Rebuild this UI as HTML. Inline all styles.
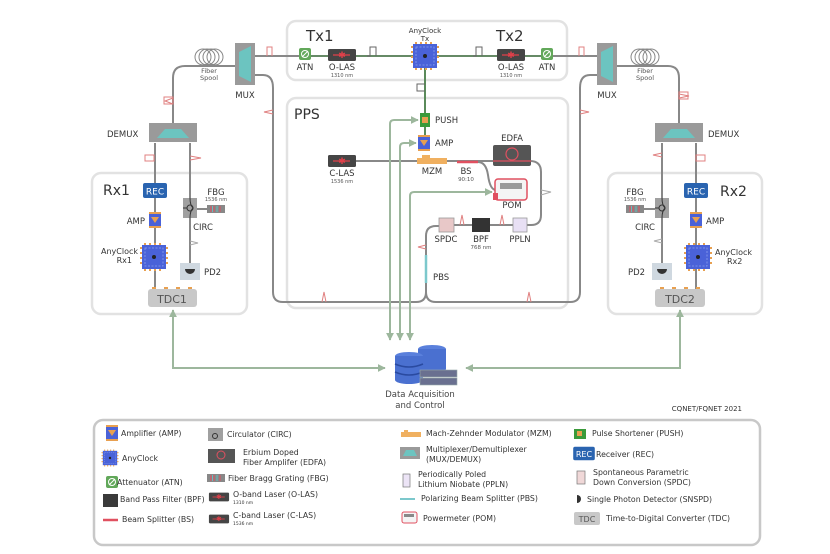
<!DOCTYPE html>
<html><head><meta charset="utf-8"><style>
html,body{margin:0;padding:0;background:#fff;}
svg{display:block;font-family:"DejaVu Sans","Liberation Sans",sans-serif;}
</style></head><body>
<svg width="830" height="554" viewBox="0 0 830 554" xmlns="http://www.w3.org/2000/svg">
<defs>
<marker id="ga" viewBox="0 0 10 10" refX="9" refY="5" markerWidth="4" markerHeight="4" orient="auto-start-reverse"><path d="M0,0L10,5L0,10z" fill="#9db79d"/></marker>
<g id="ac"><rect x="-12" y="-12" width="24" height="24" fill="#4a62d8"/><rect x="-9" y="-9" width="18" height="18" fill="none" stroke="#8aa0ee" stroke-width="0.8" stroke-dasharray="2 1.5"/><circle r="2" fill="#222"/><g fill="#e8a050"><rect x="-10" y="-14" width="2" height="2"/><rect x="-5" y="-14" width="2" height="2"/><rect x="0" y="-14" width="2" height="2"/><rect x="5" y="-14" width="2" height="2"/><rect x="-10" y="12" width="2" height="2"/><rect x="-5" y="12" width="2" height="2"/><rect x="0" y="12" width="2" height="2"/><rect x="5" y="12" width="2" height="2"/><rect x="-14" y="-10" width="2" height="2"/><rect x="-14" y="-5" width="2" height="2"/><rect x="-14" y="0" width="2" height="2"/><rect x="-14" y="5" width="2" height="2"/><rect x="12" y="-10" width="2" height="2"/><rect x="12" y="-5" width="2" height="2"/><rect x="12" y="0" width="2" height="2"/><rect x="12" y="5" width="2" height="2"/></g></g>
<g id="amp"><rect x="-6" y="-6" width="12" height="12" fill="#4a62d8"/><path d="M-4,-3L4,-3L0,3z" fill="#e8a050"/><rect x="-6" y="-8" width="12" height="2" fill="#e8a050"/><rect x="-6" y="6" width="12" height="2" fill="#e8a050"/></g>
<g id="las"><rect x="-14" y="-6" width="28" height="12" rx="1.5" fill="#454545"/><line x1="-9" y1="0" x2="8" y2="0" stroke="#e0404a" stroke-width="1.2"/><text x="0" y="3" font-size="9" fill="#e0404a" text-anchor="middle">✱</text></g>
<g id="atn"><rect x="-6" y="-6" width="12" height="12" rx="2" fill="#62a85a"/><circle r="3.5" fill="none" stroke="#fff" stroke-width="1"/><line x1="-3" y1="3" x2="3" y2="-3" stroke="#fff" stroke-width="1"/></g>
<g id="mux"><rect x="-10" y="-21" width="20" height="42" fill="#9a9a9a"/><path d="M-6,-12L6,-18L6,18L-6,12z" fill="#6cc4c0"/></g>
<g id="demux"><rect x="-24" y="-10" width="48" height="19" fill="#9a9a9a"/><path d="M-16,5L-8,-4L8,-4L16,5z" fill="#6cc4c0"/></g>
<g id="spool" fill="none" stroke="#888" stroke-width="1"><circle cx="-6" r="8"/><circle cx="-2" r="8"/><circle cx="2" r="8"/><circle cx="6" r="8"/></g>
<g id="tdcdots" fill="#e8a050"><rect x="-20" y="-2" width="4" height="2"/><rect x="-8" y="-2" width="4" height="2"/><rect x="4" y="-2" width="4" height="2"/><rect x="16" y="-2" width="4" height="2"/></g>
<g id="circ"><rect x="-7" y="-10" width="14" height="20" fill="#a0a0a0"/><circle r="3" fill="none" stroke="#333" stroke-width="1"/><path d="M-7,0L-3,0M0,-10Q0,-3 3,0Q0,3 0,10" fill="none" stroke="#333" stroke-width="1"/></g>
<g id="fbg"><rect x="-9" y="-4" width="18" height="8" fill="#888"/><g stroke="#e05060" stroke-width="1"><line x1="-5" y1="-3" x2="-5" y2="3"/><line x1="-2" y1="-3" x2="-2" y2="3"/><line x1="4" y1="-3" x2="4" y2="3"/></g><g stroke="#60c0c0" stroke-width="1"><line x1="-3.5" y1="-3" x2="-3.5" y2="3"/><line x1="1" y1="-3" x2="1" y2="3"/></g></g>
<g id="pd"><rect x="-10" y="-9" width="20" height="17" fill="#cfd8e0"/><path d="M-5,-3L5,-3A5,5 0 0 1 -5,-3z" fill="#333"/></g>
<g id="rec"><rect x="-12" y="-8" width="24" height="15" rx="2" fill="#2a64b0"/><text x="0" y="3.5" font-size="9" fill="#fff" text-anchor="middle">REC</text></g>
</defs>

<g fill="none" stroke="#e2e2e2" stroke-width="2.5">
<rect x="287" y="21" width="280" height="59" rx="9"/>
<rect x="287" y="98" width="281" height="210" rx="9"/>
<rect x="92" y="173" width="155" height="141" rx="9"/>
<rect x="608" y="173" width="154" height="141" rx="9"/>
<rect x="94" y="420" width="666" height="125" rx="9" stroke="#c8c8c8"/>
</g>

<g fill="none" stroke="#888" stroke-width="2">
<line x1="255" y1="56" x2="598" y2="56"/>
<path d="M236,66L185,66Q173,66 173,78L173,124"/>
<path d="M255,75L263,75Q273,75 273,88L273,292Q273,302 283,302L416,302Q426,302 426,292L426,236Q426,226 436,226L440,226"/>
<path d="M426,292Q426,302 436,302L570,302Q580,302 580,292L580,88Q580,75 590,75L598,75"/>
<path d="M617,66L668,66Q679,66 679,78L679,124"/>
<line x1="155" y1="143" x2="155" y2="289"/>
<line x1="190" y1="143" x2="190" y2="264"/>
<line x1="196" y1="209" x2="207" y2="209"/>
<line x1="662" y1="143" x2="662" y2="264"/>
<line x1="696" y1="143" x2="696" y2="289"/>
<line x1="644" y1="209" x2="655" y2="209"/>
<path d="M340,161L530,161Q541,161 541,172L541,215Q541,225 531,225L527,225"/>
<line x1="490" y1="225" x2="513" y2="225"/>
<line x1="454" y1="225" x2="472" y2="225"/>
<path d="M478,162Q486,162 488,175Q490,190 496,190"/>
</g>
<line x1="425" y1="56" x2="425" y2="150" stroke="#5a8a5a" stroke-width="2"/>
<line x1="300" y1="56" x2="552" y2="56" stroke="#5a8a5a" stroke-width="1.5"/>
<g fill="none" stroke="#666" stroke-width="1">
<path d="M367,56L370,56L370,47L376,47L376,56"/>
<path d="M473,56L476,56L476,47L482,47L482,56"/>
<path d="M425,84L417,84L417,91L425,91"/>
</g>
<g fill="none" stroke="#e08080" stroke-width="1">
<path d="M267,56L267,47L272,47L272,56"/><path d="M579,56L579,47L584,47L584,56"/>
<rect x="145" y="155" width="9" height="6"/><rect x="696" y="155" width="9" height="6"/>
<path d="M173,98L165,101L173,104"/><rect x="164" y="97" width="9" height="7"/>
<path d="M190,160L201,158L190,156"/>
<path d="M679,94L689,96L679,98"/><rect x="679" y="92" width="9" height="7"/>
<path d="M662,153L653,155L662,157"/>
<path d="M273,110L264,112L273,114"/>
<path d="M580,110L589,112L580,114"/>
<path d="M322,302L324,292L326,302"/><path d="M527,302L529,292L531,302"/>
<path d="M460,225L462,215L464,225"/><path d="M500,225L502,215L504,225"/>
<path d="M426,245L418,247L426,249"/>
</g>
<g fill="none" stroke="#aaa" stroke-width="1"><path d="M190,245L198,243L190,241"/><path d="M662,243L654,241L662,239"/><path d="M541,195L551,192L541,190"/></g>

<g fill="none" stroke="#9db79d" stroke-width="2">
<path d="M390,340L390,124Q390,120 394,120L418,120" marker-start="url(#ga)" marker-end="url(#ga)"/>
<path d="M400,340L400,147Q400,143 404,143L416,143" marker-start="url(#ga)" marker-end="url(#ga)"/>
<path d="M410,340L410,196Q410,192 414,192L492,192" marker-start="url(#ga)" marker-end="url(#ga)"/>
<path d="M173,310L173,368L385,368" marker-start="url(#ga)" marker-end="url(#ga)"/>
<path d="M680,310L680,368L466,368" marker-start="url(#ga)" marker-end="url(#ga)"/>
</g>

<text x="306" y="41" font-size="15" fill="#333">Tx1</text>
<text x="496" y="41" font-size="15" fill="#333">Tx2</text>
<use href="#atn" x="305" y="54"/><text x="305" y="70" font-size="8.5" fill="#333" text-anchor="middle">ATN</text>
<use href="#las" x="342" y="55"/><text x="342" y="70" font-size="8.5" fill="#333" text-anchor="middle">O-LAS</text><text x="342" y="77" font-size="5" fill="#555" text-anchor="middle">1310 nm</text>
<use href="#las" x="511" y="55"/><text x="511" y="70" font-size="8.5" fill="#333" text-anchor="middle">O-LAS</text><text x="511" y="77" font-size="5" fill="#555" text-anchor="middle">1310 nm</text>
<use href="#atn" x="547" y="54"/><text x="547" y="70" font-size="8.5" fill="#333" text-anchor="middle">ATN</text>
<use href="#ac" x="425" y="56"/>
<text x="425" y="33" font-size="7" fill="#333" text-anchor="middle">AnyClock</text><text x="425" y="41" font-size="7" fill="#333" text-anchor="middle">Tx</text>

<use href="#mux" x="245" y="64"/><text x="245" y="98" font-size="8.5" fill="#333" text-anchor="middle">MUX</text>
<use href="#mux" x="607" y="64"/><text x="607" y="98" font-size="8.5" fill="#333" text-anchor="middle">MUX</text>
<use href="#spool" x="209" y="57"/><text x="209" y="73" font-size="6.5" fill="#555" text-anchor="middle">Fiber</text><text x="209" y="80" font-size="6.5" fill="#555" text-anchor="middle">Spool</text>
<use href="#spool" x="645" y="57"/><text x="645" y="73" font-size="6.5" fill="#555" text-anchor="middle">Fiber</text><text x="645" y="80" font-size="6.5" fill="#555" text-anchor="middle">Spool</text>

<text x="294" y="119" font-size="14" fill="#333">PPS</text>
<rect x="420" y="113" width="10" height="14" fill="#3a9a3a"/><rect x="422" y="117" width="6" height="6" fill="#e8a050"/>
<text x="435" y="123" font-size="8.5" fill="#333">PUSH</text>
<use href="#amp" x="424" y="143"/><text x="435" y="146" font-size="8.5" fill="#333">AMP</text>
<use href="#las" x="342" y="161"/><text x="342" y="176" font-size="8.5" fill="#333" text-anchor="middle">C-LAS</text><text x="342" y="183" font-size="5" fill="#555" text-anchor="middle">1536 nm</text>
<rect x="417" y="158" width="30" height="6" fill="#f0b060"/><rect x="422" y="155" width="8" height="3" fill="#f0b060"/>
<text x="432" y="174" font-size="8.5" fill="#333" text-anchor="middle">MZM</text>
<line x1="457" y1="162" x2="478" y2="162" stroke="#e05060" stroke-width="2.5"/>
<text x="466" y="174" font-size="8.5" fill="#333" text-anchor="middle">BS</text><text x="466" y="181" font-size="5.5" fill="#555" text-anchor="middle">90:10</text>
<rect x="493" y="145" width="38" height="21" rx="2" fill="#555"/><circle cx="512" cy="154" r="6" fill="none" stroke="#e05060" stroke-width="1.2"/><line x1="493" y1="161" x2="531" y2="161" stroke="#e05060" stroke-width="1.2"/>
<text x="512" y="141" font-size="8.5" fill="#333" text-anchor="middle">EDFA</text>
<rect x="495" y="179" width="32" height="21" rx="3" fill="#f4f4f4" stroke="#e05060" stroke-width="1.5"/><rect x="500" y="183" width="22" height="6" fill="#999"/><rect x="493" y="193" width="5" height="7" fill="#e05060"/>
<text x="512" y="208" font-size="8.5" fill="#333" text-anchor="middle">POM</text>
<rect x="439" y="218" width="15" height="14" fill="#e8c8c8" stroke="#999" stroke-width="0.8"/>
<text x="446" y="242" font-size="8.5" fill="#333" text-anchor="middle">SPDC</text>
<rect x="472" y="218" width="18" height="14" fill="#333"/>
<text x="481" y="242" font-size="8.5" fill="#333" text-anchor="middle">BPF</text><text x="481" y="249" font-size="5.5" fill="#555" text-anchor="middle">768 nm</text>
<rect x="513" y="218" width="14" height="14" fill="#e8e0f4" stroke="#999" stroke-width="0.8"/>
<text x="520" y="242" font-size="8.5" fill="#333" text-anchor="middle">PPLN</text>
<line x1="426" y1="255" x2="426" y2="283" stroke="#7cc8cc" stroke-width="2.5"/>
<text x="433" y="280" font-size="8.5" fill="#333">PBS</text>

<use href="#demux" x="173" y="133"/><text x="107" y="137" font-size="8.5" fill="#333">DEMUX</text>
<text x="103" y="195" font-size="14" fill="#333">Rx1</text>
<use href="#rec" x="155" y="191"/>
<use href="#amp" x="155" y="220"/><text x="145" y="224" font-size="8.5" fill="#333" text-anchor="end">AMP</text>
<use href="#ac" x="154" y="257"/><text x="138" y="254" font-size="8" fill="#333" text-anchor="end">AnyClock</text><text x="132" y="263" font-size="8" fill="#333" text-anchor="end">Rx1</text>
<use href="#circ" x="190" y="208"/><text x="203" y="230" font-size="8.5" fill="#333" text-anchor="middle">CIRC</text>
<use href="#fbg" x="216" y="209"/><text x="216" y="195" font-size="8.5" fill="#333" text-anchor="middle">FBG</text><text x="216" y="201" font-size="5" fill="#555" text-anchor="middle">1536 nm</text>
<use href="#pd" x="190" y="272"/><text x="204" y="275" font-size="8.5" fill="#333">PD2</text>
<rect x="148" y="289" width="49" height="18" rx="3" fill="#c8c8c8"/><use href="#tdcdots" x="172" y="289"/><text x="172" y="303" font-size="11" fill="#555" text-anchor="middle">TDC1</text>

<use href="#demux" x="679" y="133"/><text x="708" y="137" font-size="8.5" fill="#333">DEMUX</text>
<text x="720" y="196" font-size="14" fill="#333">Rx2</text>
<use href="#rec" x="696" y="191"/>
<use href="#amp" x="696" y="220"/><text x="706" y="224" font-size="8.5" fill="#333">AMP</text>
<use href="#ac" x="698" y="257"/><text x="715" y="255" font-size="8" fill="#333">AnyClock</text><text x="727" y="264" font-size="8" fill="#333">Rx2</text>
<use href="#circ" x="662" y="208"/><text x="645" y="230" font-size="8.5" fill="#333" text-anchor="middle">CIRC</text>
<use href="#fbg" x="635" y="209"/><text x="635" y="195" font-size="8.5" fill="#333" text-anchor="middle">FBG</text><text x="635" y="201" font-size="5" fill="#555" text-anchor="middle">1536 nm</text>
<use href="#pd" x="662" y="272"/><text x="628" y="275" font-size="8.5" fill="#333">PD2</text>
<rect x="655" y="289" width="50" height="18" rx="3" fill="#c8c8c8"/><use href="#tdcdots" x="680" y="289"/><text x="680" y="303" font-size="11" fill="#555" text-anchor="middle">TDC2</text>

<g>
<ellipse cx="432" cy="349" rx="14" ry="4" fill="#5a80dc"/><rect x="418" y="349" width="28" height="20" fill="#4a70d0"/><ellipse cx="432" cy="369" rx="14" ry="4" fill="#4a70d0"/>
<ellipse cx="409" cy="356" rx="14" ry="4" fill="#5a80dc"/><rect x="395" y="356" width="28" height="24" fill="#4a70d0"/><ellipse cx="409" cy="380" rx="14" ry="4" fill="#4a70d0"/>
<path d="M395,364Q409,370 423,364M395,372Q409,378 423,372" fill="none" stroke="#2a4aa0" stroke-width="1.5"/>
<rect x="420" y="370" width="37" height="7" fill="#6a7090" stroke="#9aa" stroke-width="0.6"/><rect x="420" y="378" width="37" height="7" fill="#6a7090" stroke="#9aa" stroke-width="0.6"/>
</g>
<text x="420" y="397" font-size="8.5" fill="#444" text-anchor="middle">Data Acquisition</text>
<text x="420" y="408" font-size="8.5" fill="#444" text-anchor="middle">and Control</text>
<text x="742" y="411" font-size="7" fill="#333" text-anchor="end">CQNET/FQNET 2021</text>

<g font-size="7.8" fill="#333">
<use href="#amp" x="112" y="433"/><text x="121" y="436">Amplifier (AMP)</text>
<g transform="translate(110,458) scale(0.6)"><use href="#ac"/></g><text x="122" y="461">AnyClock</text>
<use href="#atn" x="112" y="482"/><text x="117" y="485">Attenuator (ATN)</text>
<rect x="103" y="494" width="15" height="13" fill="#3a3a3a"/><text x="120" y="502">Band Pass Filter (BPF)</text>
<line x1="103" y1="520" x2="118" y2="520" stroke="#e05060" stroke-width="2.5"/><text x="122" y="522">Beam Splitter (BS)</text>
<rect x="208" y="428" width="15" height="13" fill="#a0a0a0"/><circle cx="215" cy="436" r="2.5" fill="none" stroke="#333"/><text x="227" y="437">Circulator (CIRC)</text>
<rect x="208" y="449" width="27" height="14" fill="#555"/><circle cx="221" cy="455" r="4" fill="none" stroke="#e05060"/><text x="243" y="455">Erbium Doped</text><text x="243" y="465">Fiber Amplifer (EDFA)</text>
<use href="#fbg" x="216" y="478"/><text x="228" y="481">Fiber Bragg Grating (FBG)</text>
<g transform="translate(219,497) scale(0.72)"><use href="#las"/></g><text x="233" y="497">O-band Laser (O-LAS)</text><text x="233" y="504" font-size="4.5">1310 nm</text>
<g transform="translate(219,519) scale(0.72)"><use href="#las"/></g><text x="233" y="518">C-band Laser (C-LAS)</text><text x="233" y="525" font-size="4.5">1536 nm</text>
<rect x="401" y="432" width="20" height="5" fill="#f0b060"/><rect x="404" y="430" width="4" height="2" fill="#f0b060"/><text x="426" y="436">Mach-Zehnder Modulator (MZM)</text>
<rect x="400" y="447" width="20" height="12" fill="#9a9a9a"/><path d="M403,456L406,450L414,450L417,456z" fill="#6cc4c0"/><text x="426" y="452">Multiplexer/Demultiplexer</text><text x="426" y="462">(MUX/DEMUX)</text>
<rect x="403" y="474" width="7" height="13" fill="#ece4f6" stroke="#777" stroke-width="0.7"/><text x="418" y="477">Periodically Poled</text><text x="418" y="487">Lithium Niobate (PPLN)</text>
<line x1="400" y1="499" x2="415" y2="499" stroke="#7cc8cc" stroke-width="2"/><text x="421" y="501">Polarizing Beam Splitter (PBS)</text>
<rect x="402" y="512" width="15" height="11" rx="2" fill="#f4f4f4" stroke="#e05060"/><rect x="404" y="514" width="10" height="3" fill="#888"/><text x="423" y="521">Powermeter (POM)</text>
<rect x="574" y="429" width="12" height="10" fill="#3a9a3a"/><rect x="577" y="431" width="5" height="5" fill="#e8a050"/><text x="592" y="436">Pulse Shortener (PUSH)</text>
<g transform="translate(584,454) scale(0.9)"><use href="#rec"/></g><text x="596" y="457">Receiver (REC)</text>
<rect x="577" y="471" width="8" height="13" fill="#f0d8d8" stroke="#777" stroke-width="0.7"/><text x="593" y="475">Spontaneous Parametric</text><text x="593" y="485">Down Conversion (SPDC)</text>
<path d="M577,495L577,503A4,4 0 0 0 577,495z" fill="#333"/><text x="587" y="502">Single Photon Detector (SNSPD)</text>
<rect x="574" y="512" width="26" height="13" rx="2" fill="#c8c8c8"/><text x="587" y="522" text-anchor="middle" font-size="8" fill="#555">TDC</text><text x="606" y="521">Time-to-Digital Converter (TDC)</text>
</g>
</svg>
</body></html>
